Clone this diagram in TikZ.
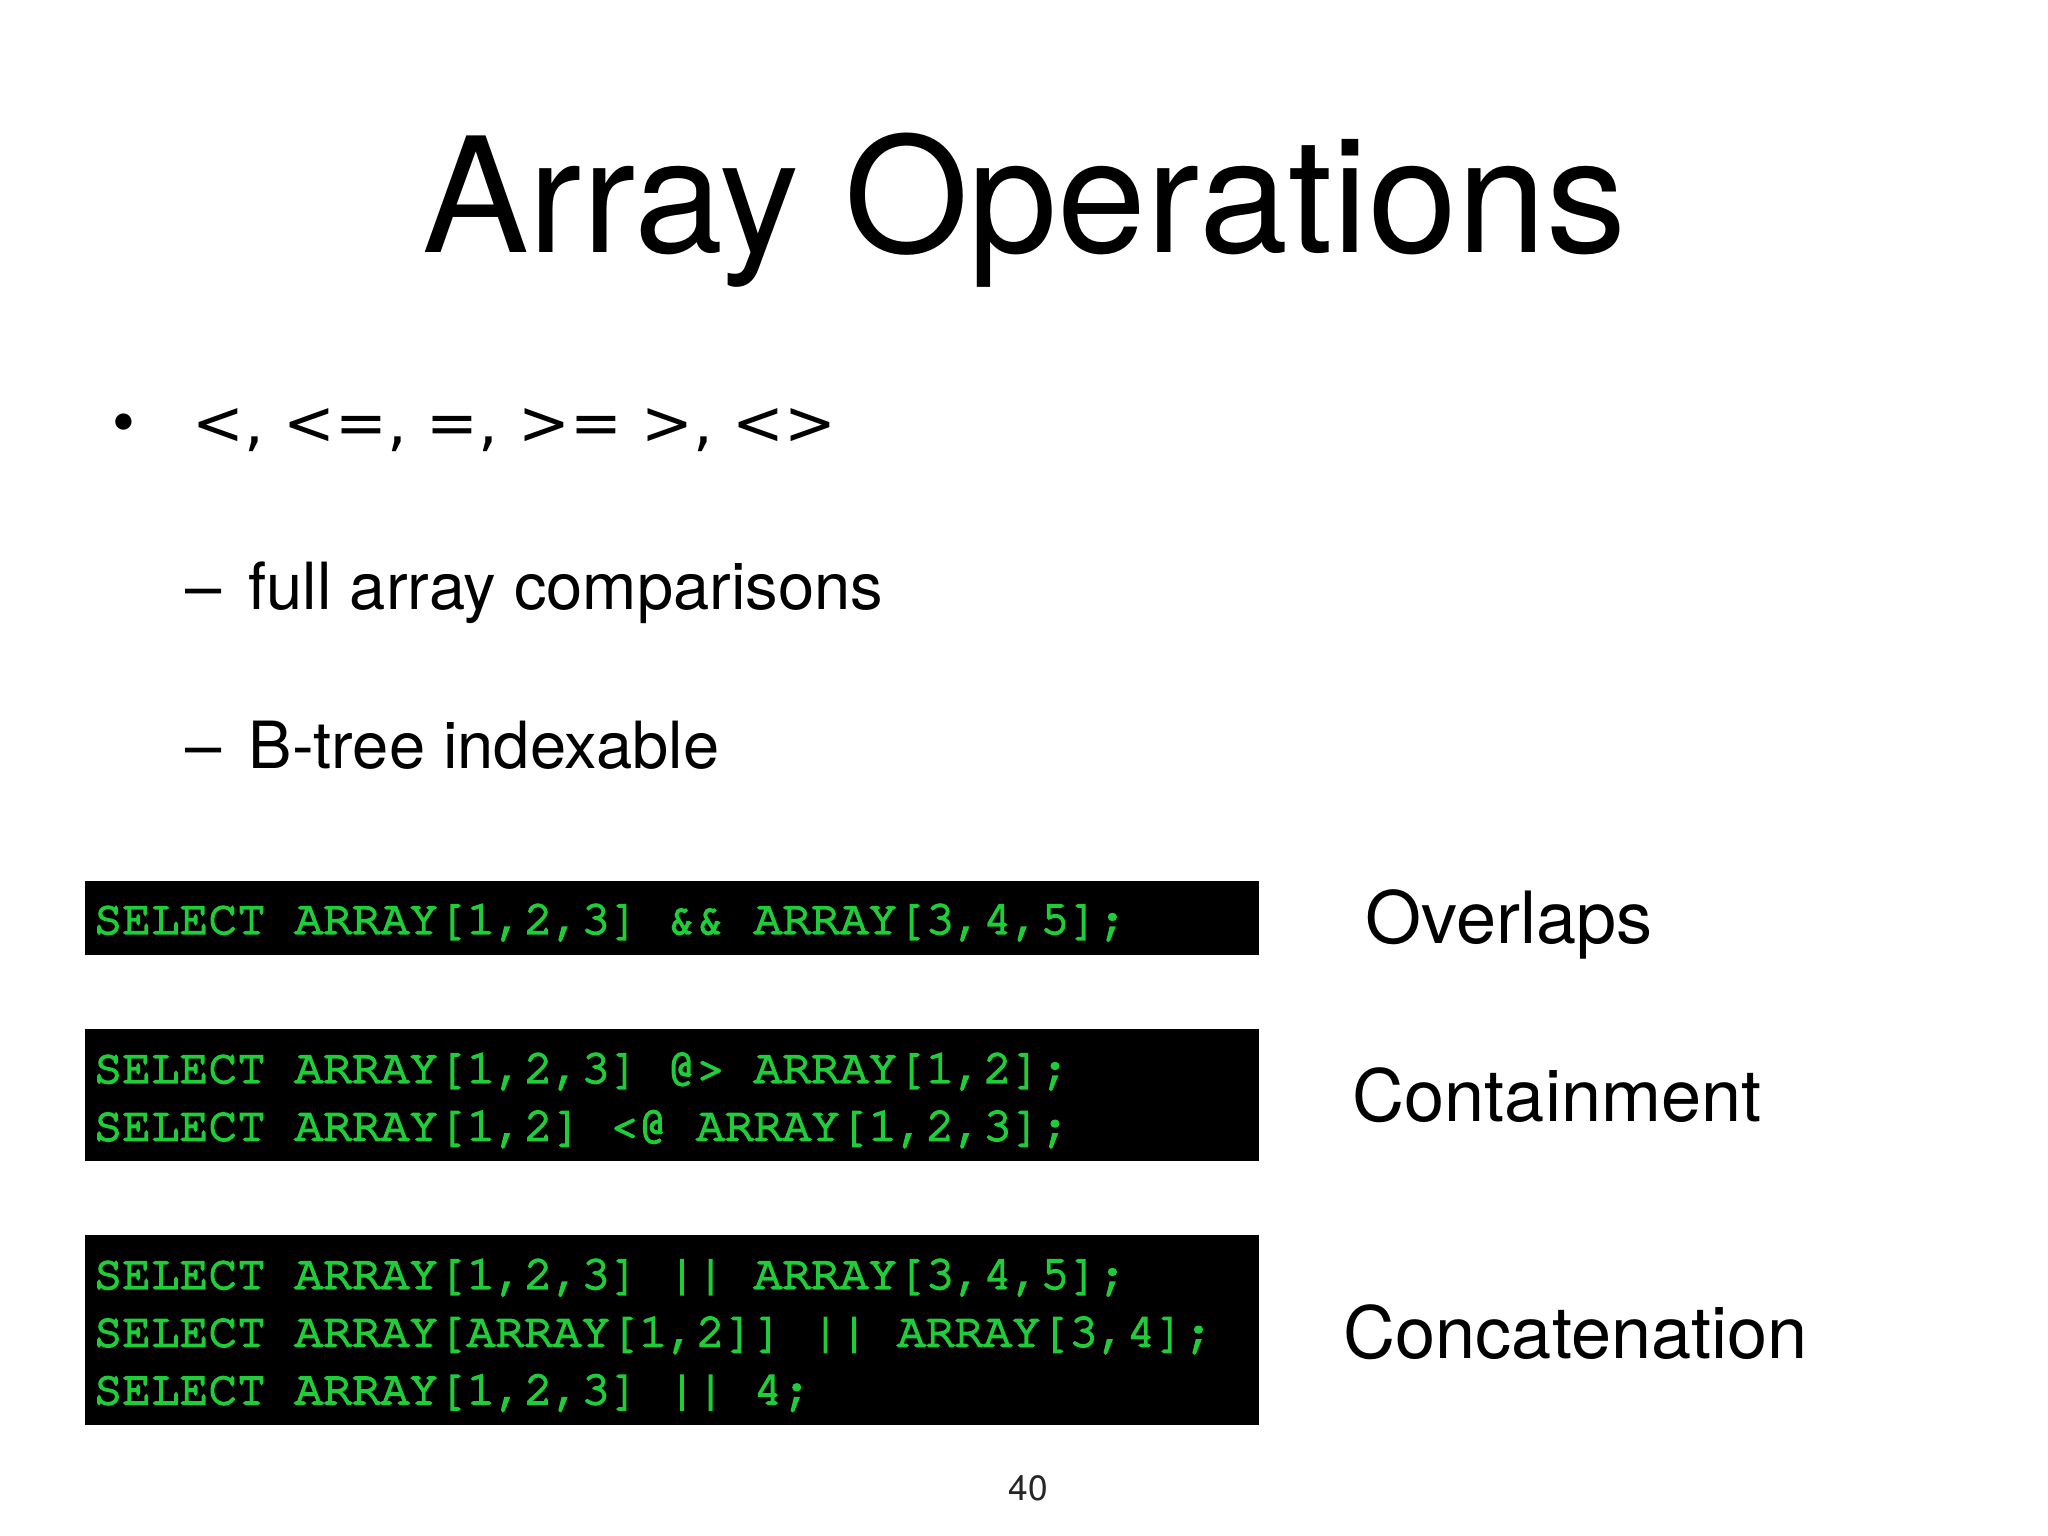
\documentclass[tikz,border=0pt]{standalone}
\usepackage{fontspec}
\setmainfont{TeX Gyre Heros}
\newfontfamily\codefont[FakeBold=4]{TeX Gyre Cursor}
\newfontfamily\opfont{DejaVu Sans}
\setlength{\parindent}{0pt}
\definecolor{codegreen}{RGB}{30,205,55}

\begin{document}
\begin{tikzpicture}[x=0.01cm, y=-0.01cm,
    every node/.style={inner sep=0pt},
    bodytext/.style={anchor=base west, font=\fontsize{18.5pt}{22pt}\selectfont},
    labeltext/.style={anchor=base west, font=\fontsize{20.5pt}{24pt}\selectfont},
    codebox/.style={anchor=north west, fill=black, text=codegreen,
        font=\codefont\fontsize{13.6pt}{16.4pt}\selectfont,
        inner xsep=0.09cm, text width=11.56cm, align=flush left}]
    % 1. Page frame
    \useasboundingbox (0,0) rectangle (2048,1536);

    % 2. Title
    \node[anchor=base, font=\fontsize{45.5pt}{50pt}\selectfont] (title) at (1024,252) {Array Operations};

    % 3. Bullet list
    \node[bodytext] (dot)   at (112,444) {•};
    \node[bodytext, font=\opfont\fontsize{17.6pt}{22pt}\selectfont] (cmp) at (192,444) {<, <=, =, >= >, <>};
    \node[bodytext] (dasha) at (185,609) {–};
    \node[bodytext] (full)  at (248,609) {full array comparisons};
    \node[bodytext] (dashb) at (185,768) {–};
    \node[bodytext] (btree) at (248,768) {B-tree indexable};

    % 4. Code boxes
    \node[codebox] (overlapcode) at (84,880)
        {\rule{0pt}{0.53cm}SELECT ARRAY[1,2,3] \&\& ARRAY[3,4,5];\rule[-0.21cm]{0pt}{0pt}};
    \node[codebox] (containcode) at (84,1028)
        {\rule{0pt}{0.54cm}SELECT ARRAY[1,2,3] @> ARRAY[1,2];\\
         SELECT ARRAY[1,2] <@ ARRAY[1,2,3];\rule[-0.21cm]{0pt}{0pt}};
    \node[codebox] (concatcode) at (84,1234)
        {\rule{0pt}{0.54cm}SELECT ARRAY[1,2,3] || ARRAY[3,4,5];\\
         SELECT ARRAY[ARRAY[1,2]] || ARRAY[3,4];\\
         SELECT ARRAY[1,2,3] || 4;\rule[-0.21cm]{0pt}{0pt}};

    % 5. Labels
    \node[labeltext] (overlaps) at (1365,943)  {Overlaps};
    \node[labeltext] (contains) at (1352,1121) {Containment};
    \node[labeltext] (concat)   at (1343,1358) {Concatenation};

    % 6. Page number
    \node[anchor=base, text=black!85, font=\fontsize{10pt}{12pt}\selectfont] (pageno) at (1028,1500) {40};
\end{tikzpicture}
\end{document}
